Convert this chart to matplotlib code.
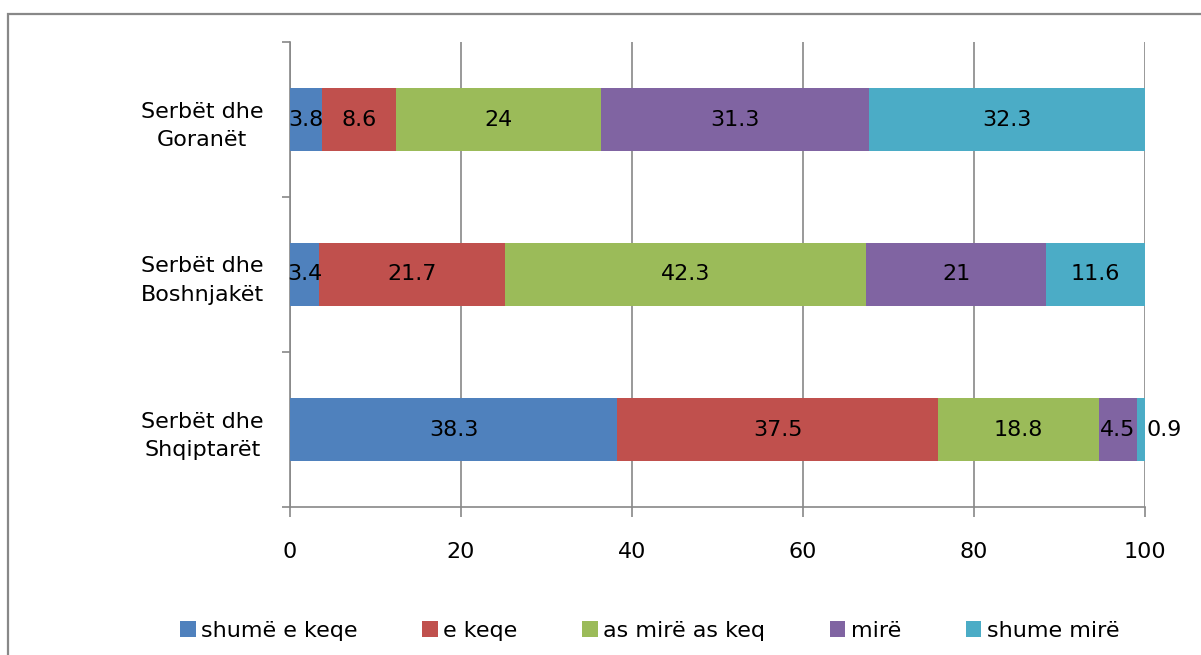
import matplotlib.pyplot as plt
import matplotlib.patches as patches
import numpy as np

groups = ['Serbët dhe\nShqiptarët', 'Serbët dhe\nBoshnjakët', 'Serbët dhe\nGoranët']
series = ['shumë e keqe', 'e keqe', 'as mirë as keq', 'mirë', 'shume mirë']
values = [
    [38.3, 3.4, 3.8],
    [37.5, 21.7, 8.6],
    [18.8, 42.3, 24],
    [4.5, 21, 31.3],
    [0.9, 11.6, 32.3],
]
colors = ['#4F81BD', '#C0504D', '#9BBB59', '#8064A2', '#4BACC6']
xticks = [0, 20, 40, 60, 80, 100]

plt.rcParams['font.family'] = 'DejaVu Sans'
fs = 16

fig = plt.figure(figsize=(12.01, 6.55), dpi=100)
ax = fig.add_axes([290 / 1201, 1 - 507 / 655, 855 / 1201, 465 / 655])

y = np.arange(len(groups))
left = np.zeros(len(groups))
for name, vals, c in zip(series, values, colors):
    vals = np.array(vals, dtype=float)
    ax.barh(y, vals, left=left, height=0.41, color=c, label=name, zorder=3)
    for yi, l, v in zip(y, left, vals):
        txt = f'{v:g}'
        if v < 2:
            ax.text(l + v + 0.2, yi, txt, ha='left', va='center', fontsize=fs, zorder=4)
        else:
            ax.text(l + v / 2, yi, txt, ha='center', va='center', fontsize=fs, zorder=4)
    left += vals

ax.set_xlim(0, 100)
ax.set_ylim(-0.5, 2.5)
ax.set_xticks(xticks)
ax.set_yticks(y)
ax.set_yticklabels(groups, fontsize=fs, multialignment='center', linespacing=1.55)
ax.set_yticks([-0.5, 0.5, 1.5, 2.5], minor=True)
ax.tick_params(axis='y', which='major', length=0, pad=19)
ax.tick_params(axis='y', which='minor', length=6, color='#888888', width=1.2)
ax.tick_params(axis='x', length=7, color='#888888', width=1.2, pad=18, labelsize=fs)
ax.grid(axis='x', color='#888888', linewidth=1.2, zorder=0)
for s in ['top', 'right']:
    ax.spines[s].set_visible(False)
for s in ['left', 'bottom']:
    ax.spines[s].set_color('#888888')
    ax.spines[s].set_linewidth(1.2)

fig.legend(loc='center', bbox_to_anchor=(0.541, 1 - 631 / 655), ncol=5, frameon=False,
           fontsize=fs, handlelength=0.7, handleheight=0.7, handletextpad=0.25,
           columnspacing=2.9)

fig.patches.append(patches.Rectangle((8 / 1201, -0.1), 1.2, 0.1 + 1 - 14 / 655,
                                     transform=fig.transFigure, fill=False,
                                     edgecolor='#888888', linewidth=1.6))

fig.savefig('out.png', dpi=100)
